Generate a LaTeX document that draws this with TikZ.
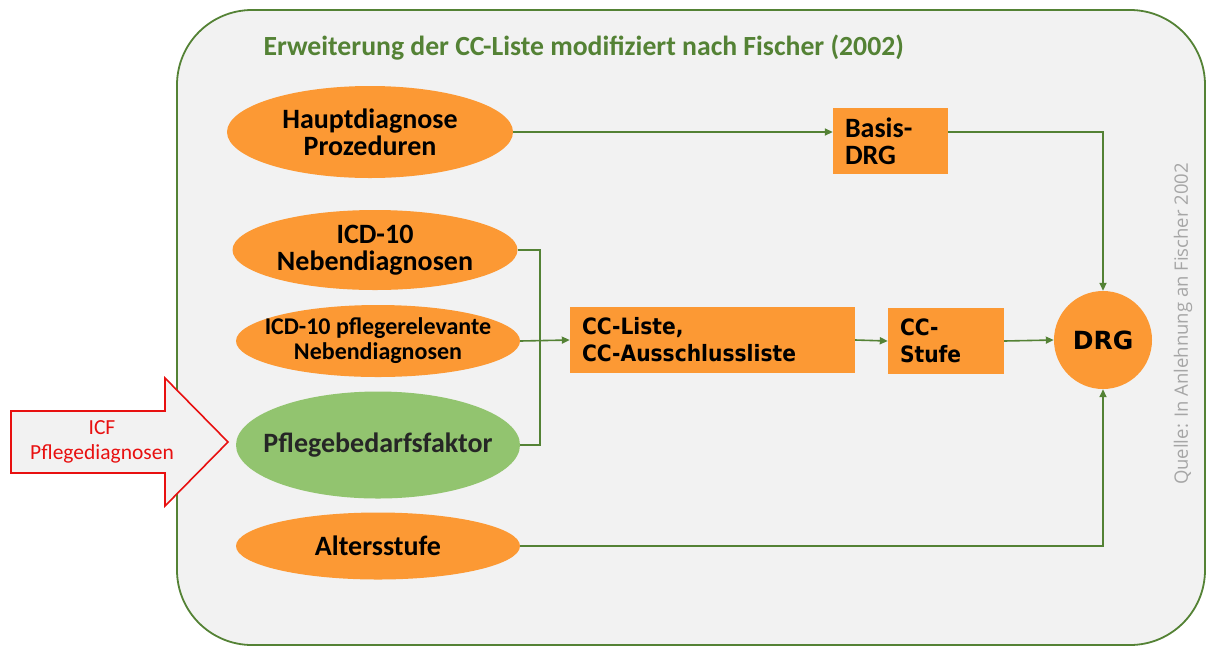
\documentclass[tikz,border=0pt]{standalone}
\usepackage{fontspec}
\setmainfont{Carlito}
\newfontfamily\tahoma{DejaVu Sans}[FakeStretch=0.9]
\newfontfamily\verd{DejaVu Sans}
\newfontfamily\quelle{Open Sans}
\usepackage{xcolor}
\usetikzlibrary{arrows.meta}
\usetikzlibrary{shapes.geometric}
\usetikzlibrary{positioning}
\definecolor{framegreen}{RGB}{84,130,53}
\definecolor{panel}{RGB}{242,242,242}
\definecolor{orangefill}{RGB}{252,153,52}
\definecolor{greenfill}{RGB}{146,196,111}
\definecolor{icfred}{RGB}{232,16,16}
\definecolor{quellegray}{RGB}{166,166,166}

\begin{document}
\begin{tikzpicture}[x=1pt, y=-1pt,
	oval/.style={ellipse, fill=orangefill, inner sep=-60pt, align=center, font=\bfseries\fontsize{28}{27}\selectfont},
	box/.style={rectangle, fill=orangefill, inner xsep=12pt, inner ysep=0pt, align=left, minimum height=66pt, font=\tahoma\bfseries\fontsize{22.5}{27}\selectfont},
	link/.style={framegreen, line width=1.6pt, -{Triangle[length=8pt,width=7pt]}},
	conn/.style={framegreen, line width=1.6pt}]
	\useasboundingbox (0,0) rectangle (1217,657);
	% draw panel
	\draw[framegreen, line width=1.8pt, fill=panel, rounded corners=75pt] (177,10) rectangle (1205,645);
	\node[anchor=west, text=framegreen, font=\bfseries\fontsize{27.7}{27.7}\selectfont] (title) at (260,48) {Erweiterung der CC-Liste modifiziert nach Fischer (2002)};
	\node[rotate=90, text=quellegray, font=\quelle\fontsize{18.5}{18.5}\selectfont] (quelle) at (1183,324) {Quelle: In Anlehnung an Fischer 2002};
	
	% inputs
	\node[oval, minimum width=286pt, minimum height=92pt] (haupt) at (370,132) {Hauptdiagnose\\Prozeduren};
	\node[oval, minimum width=285pt, minimum height=80pt] (icd) at (375,250) {ICD-10\\Nebendiagnosen};
	\node[oval, minimum width=284pt, minimum height=72pt, font=\bfseries\fontsize{24}{25}\selectfont] (pfl) at (378,341) {ICD-10 pflegerelevante\\Nebendiagnosen};
	\node[oval, fill=greenfill, text={black!85}, minimum width=284pt, minimum height=107pt] (pbf) at (378,445) {Pflegebedarfsfaktor};
	\node[oval, minimum width=284pt, minimum height=67pt] (alter) at (378,546) {Altersstufe};
	
	% boxes
	\node[box, text width=91pt, font=\bfseries\fontsize{28}{27}\selectfont] (basis) at (890.5,141) {Basis-\\DRG};
	\node[box, text width=261pt] (ccl) at (712.5,340) {CC-Liste,\\CC-Ausschlussliste};
	\node[box, text width=92pt] (ccs) at (946,341) {CC-\\Stufe};
	\node[circle, fill=orangefill, minimum size=98pt, inner sep=0pt, font=\verd\bfseries\fontsize{25}{25}\selectfont] (drg) at (1103,340) {DRG};
	
	% draw connections
	\coordinate (bus) at (540,0);
	\draw[link] (haupt.east) -- (haupt.east -| basis.west);
	\draw[link] (haupt.east -| basis.east) -| (drg.north);
	\draw[conn] (icd.east) -- (icd.east -| bus) -- (pbf.east -| bus) -- (pbf.east);
	\draw[link] (pfl.east) -- (ccl.west);
	\draw[link] (ccl.east) -- (ccs.west);
	\draw[link] (ccs.east) -- (drg.west);
	\draw[link] (alter.east) -| (drg.south);
	
	% add arrow
	\draw[icfred, line width=1.6pt, fill=panel] (11,411) -- (165,411) -- (165,378) -- (228,442) -- (165,506) -- (165,473) -- (11,473) -- cycle;
	\node[text=icfred, align=center, font=\fontsize{21.5}{25}\selectfont] (icf) at (102,442) {ICF\\Pflegediagnosen};
\end{tikzpicture}
\end{document}
